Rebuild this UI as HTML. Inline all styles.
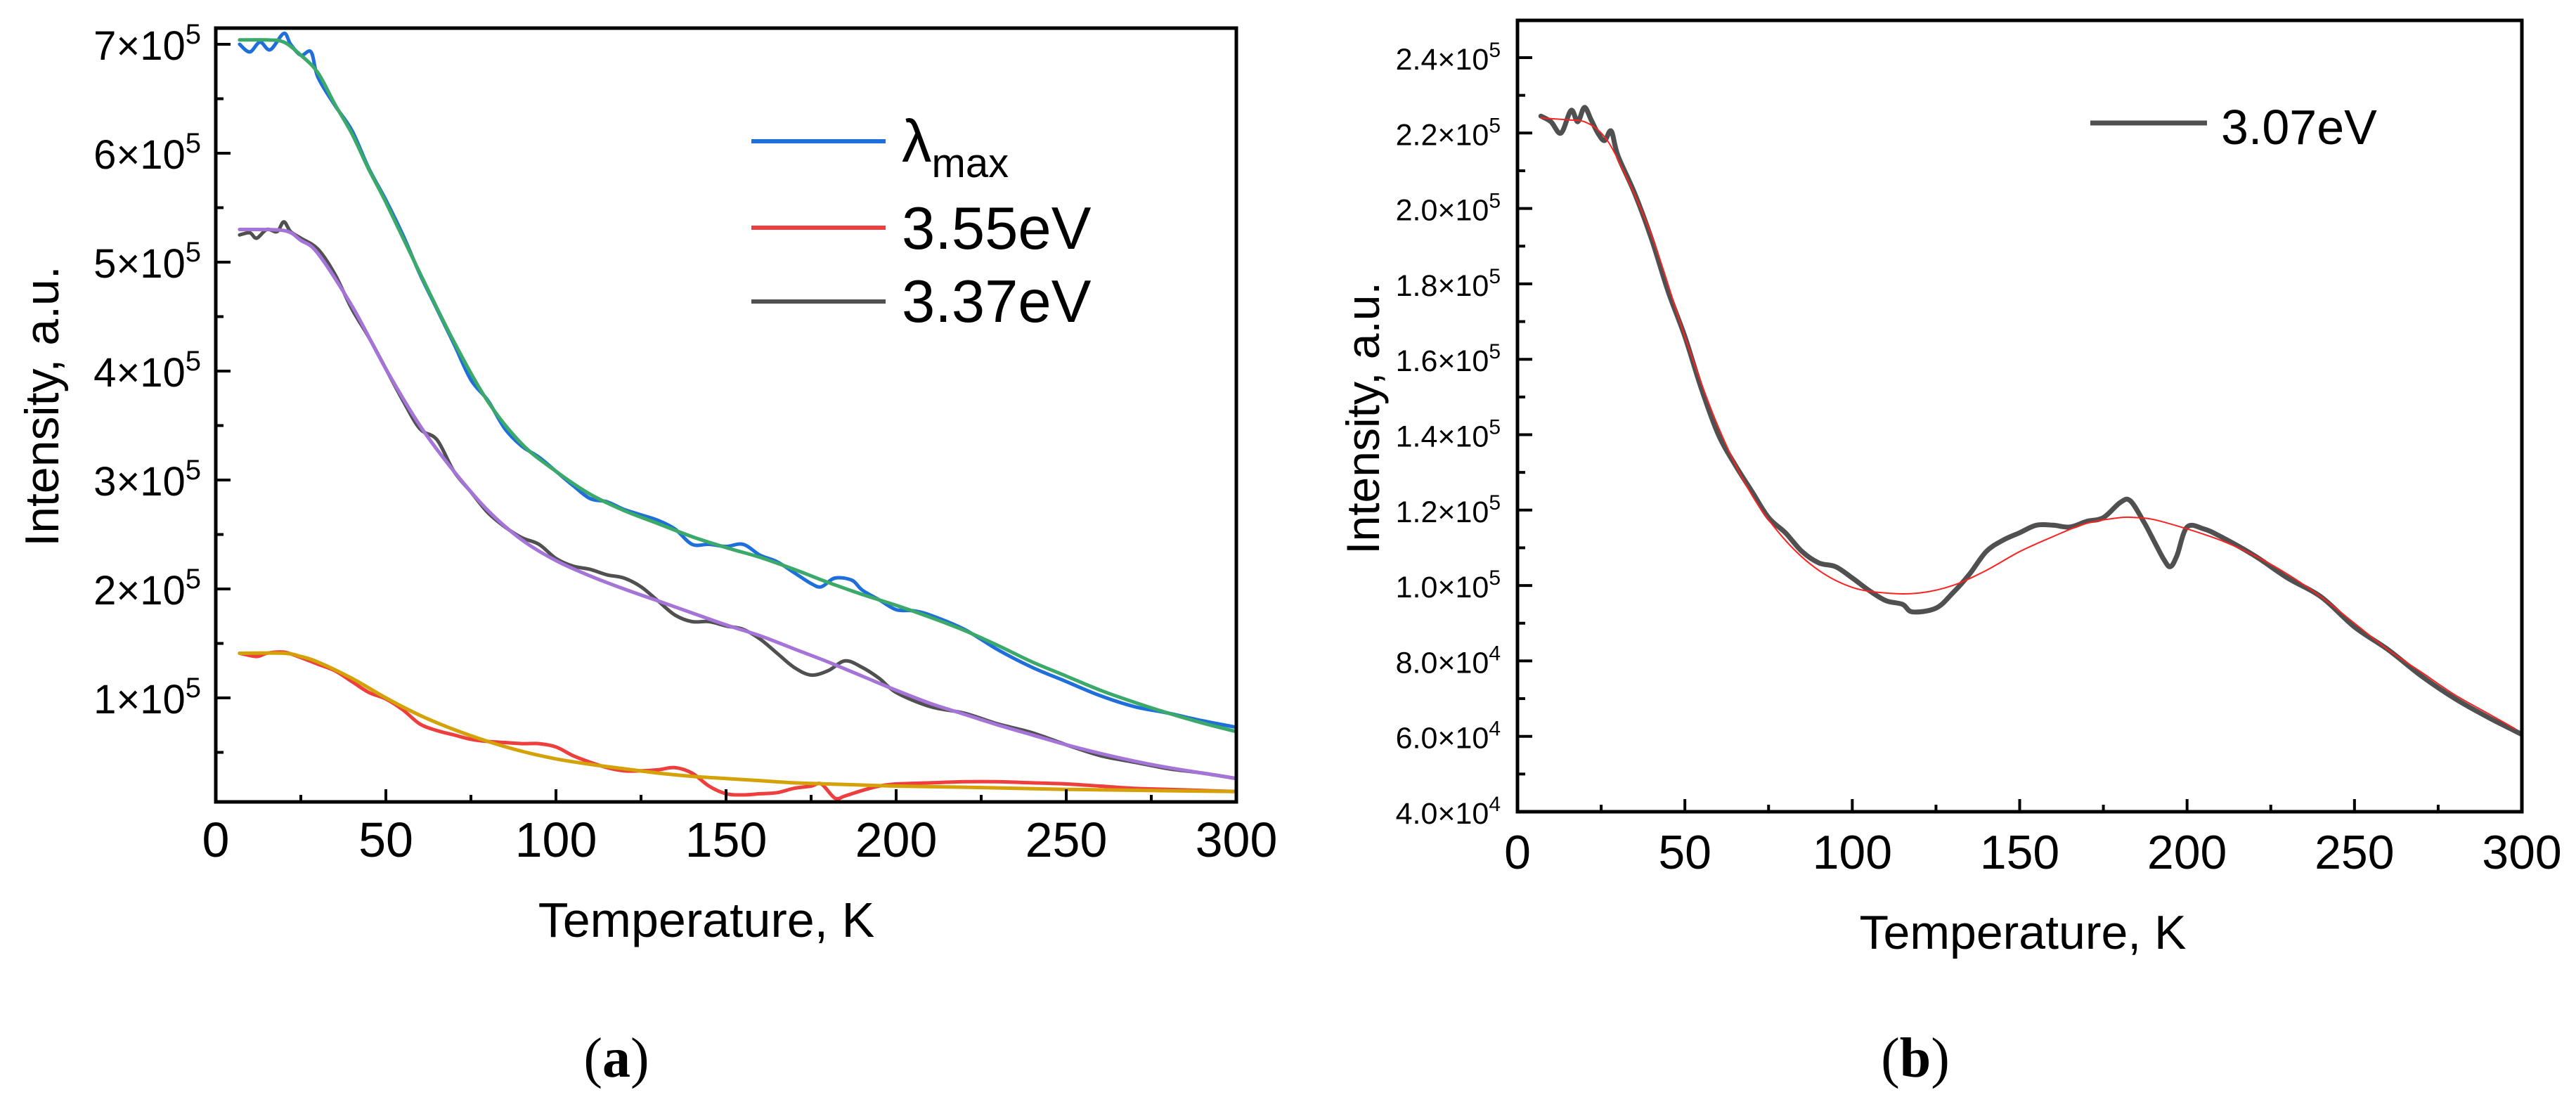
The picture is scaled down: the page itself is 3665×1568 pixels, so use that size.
<!DOCTYPE html>
<html><head><meta charset="utf-8"><style>
html,body{margin:0;padding:0;background:#fff;}
svg{display:block;font-family:"Liberation Sans",Arial,sans-serif;}
</style></head><body>
<svg id="fig" width="3665" height="1568" viewBox="0 0 3665 1568" xmlns="http://www.w3.org/2000/svg">
<g id="pa"></g>
<g id="pb"></g>
</svg>
<script>
// ---------- Panel (a) data (values in units of 1e5) ----------
const aBlueT = [7,10,13,16,20,22,25,28,30,35,40,45,50,55,60,65,70,75,80,85,90,95,100,105,110,115,120,125,130,135,140,145,150,155,160,165,170,175,178,182,187,190,195,200,205,210,220,230,240,250,260,270,280,290,300];
const aBlueV = [7.0,6.93,7.02,6.95,7.1,7.0,6.9,6.93,6.7,6.44,6.21,5.86,5.57,5.25,4.89,4.57,4.25,3.92,3.73,3.47,3.31,3.21,3.08,2.95,2.83,2.8,2.73,2.68,2.63,2.55,2.41,2.41,2.39,2.41,2.31,2.25,2.15,2.05,2.02,2.1,2.08,1.99,1.9,1.81,1.8,1.76,1.63,1.44,1.28,1.15,1.02,0.92,0.86,0.79,0.73];
const aGreenT = [7,15,20,25,30,35,40,45,50,60,70,80,90,100,110,120,130,140,150,160,170,180,190,200,210,220,230,240,250,260,270,280,290,300];
const aGreenV = [7.04,7.04,7.02,6.9,6.74,6.45,6.18,5.85,5.55,4.9,4.27,3.72,3.33,3.08,2.87,2.72,2.6,2.48,2.38,2.29,2.18,2.06,1.95,1.85,1.74,1.62,1.48,1.33,1.2,1.07,0.96,0.86,0.77,0.69];
const aGrayT = [7,10,12,15,18,20,22,25,30,35,40,45,50,55,60,65,70,75,80,85,90,95,100,105,110,115,120,125,130,135,140,145,150,155,160,165,170,175,180,185,190,195,200,210,220,230,240,250,260,270,280,290,300];
const aGrayV = [5.25,5.27,5.22,5.3,5.28,5.37,5.28,5.22,5.12,4.89,4.57,4.31,4.02,3.73,3.47,3.37,3.08,2.89,2.7,2.57,2.47,2.41,2.28,2.21,2.18,2.13,2.1,2.02,1.89,1.76,1.7,1.7,1.66,1.63,1.54,1.41,1.28,1.21,1.25,1.34,1.28,1.18,1.05,0.92,0.86,0.76,0.68,0.57,0.47,0.41,0.35,0.31,0.26];
const aPurpleT = [7,20,25,30,40,50,60,70,80,90,100,110,120,130,140,150,160,170,180,190,200,210,220,230,240,250,260,270,280,290,300];
const aPurpleV = [5.3,5.29,5.2,5.08,4.6,4.02,3.5,3.08,2.72,2.45,2.26,2.12,2.0,1.89,1.78,1.67,1.57,1.45,1.33,1.2,1.07,0.95,0.85,0.75,0.66,0.57,0.49,0.42,0.36,0.31,0.26];
const aRedT = [7,12,15,20,25,30,35,40,45,50,55,60,65,70,75,80,85,90,95,100,105,110,115,120,125,130,135,140,145,150,155,160,165,170,175,178,182,185,190,195,200,210,220,230,240,250,260,270,280,290,300];
const aRedV = [1.41,1.38,1.41,1.42,1.37,1.31,1.25,1.15,1.05,0.99,0.89,0.76,0.7,0.66,0.62,0.6,0.59,0.58,0.58,0.55,0.47,0.41,0.36,0.33,0.33,0.34,0.36,0.31,0.19,0.12,0.11,0.12,0.13,0.17,0.19,0.21,0.08,0.1,0.15,0.19,0.21,0.22,0.23,0.23,0.22,0.21,0.19,0.17,0.16,0.15,0.14];
const aGoldT = [7,20,25,30,40,50,60,70,80,90,100,110,120,130,140,150,160,170,180,190,200,220,250,300];
const aGoldV = [1.41,1.41,1.38,1.33,1.18,1.0,0.84,0.71,0.6,0.51,0.44,0.39,0.35,0.31,0.28,0.26,0.24,0.22,0.21,0.2,0.19,0.18,0.16,0.14];
const aYTicks = [1,2,3,4,5,6,7];
const aXTicks = [0,50,100,150,200,250,300];

// ---------- Panel (b) data (values in units of 1e5) ----------
const bGrayT = [7,10,13,16,18,20,22,24,26,28,30,35,40,45,50,55,60,65,70,75,80,85,90,95,100,105,110,115,118,125,130,135,140,145,150,155,160,165,170,175,180,183,187,190,193,195,197,200,205,210,220,230,240,250,260,270,280,290,300];
const bGrayV = [2.245,2.23,2.2,2.26,2.23,2.268,2.235,2.2,2.18,2.205,2.14,2.04,1.92,1.78,1.66,1.52,1.4,1.32,1.25,1.18,1.14,1.09,1.06,1.05,1.02,0.987,0.96,0.95,0.93,0.94,0.98,1.03,1.09,1.12,1.14,1.16,1.16,1.155,1.17,1.18,1.22,1.225,1.17,1.12,1.07,1.05,1.08,1.155,1.15,1.13,1.08,1.02,0.97,0.89,0.83,0.76,0.7,0.65,0.605];
const bFitT = [7,15,20,25,30,40,50,60,70,80,90,100,110,120,130,140,150,160,170,180,185,190,200,210,220,230,240,250,260,270,280,290,298];
const bFitV = [2.24,2.235,2.23,2.2,2.13,1.93,1.66,1.42,1.24,1.12,1.04,0.995,0.98,0.98,1.0,1.04,1.09,1.13,1.165,1.18,1.18,1.175,1.15,1.12,1.08,1.03,0.97,0.9,0.83,0.77,0.71,0.66,0.62];
const bYTicks = [0.4,0.6,0.8,1.0,1.2,1.4,1.6,1.8,2.0,2.2,2.4];
const bYLabels = ["4.0×10|4","6.0×10|4","8.0×10|4","1.0×10|5","1.2×10|5","1.4×10|5","1.6×10|5","1.8×10|5","2.0×10|5","2.2×10|5","2.4×10|5"];
const bXTicks = [0,50,100,150,200,250,300];

const NS = "http://www.w3.org/2000/svg";
function mk(parent, tag, attrs){const e=document.createElementNS(NS,tag);for(const k in attrs)e.setAttribute(k,attrs[k]);parent.appendChild(e);return e;}
function smooth(pts){
  let d="M"+pts[0][0].toFixed(1)+","+pts[0][1].toFixed(1);
  for(let i=0;i<pts.length-1;i++){
    const p0=pts[Math.max(0,i-1)],p1=pts[i],p2=pts[i+1],p3=pts[Math.min(pts.length-1,i+2)];
    const c1x=p1[0]+(p2[0]-p0[0])/6,c1y=p1[1]+(p2[1]-p0[1])/6,c2x=p2[0]-(p3[0]-p1[0])/6,c2y=p2[1]-(p3[1]-p1[1])/6;
    d+=" C"+c1x.toFixed(1)+","+c1y.toFixed(1)+" "+c2x.toFixed(1)+","+c2y.toFixed(1)+" "+p2[0].toFixed(1)+","+p2[1].toFixed(1);
  }
  return d;
}
function series(g,T,V,sx,sy,color,w,name){
  const pts=T.map((t,i)=>[sx(t),sy(V[i])]);
  const p=mk(g,"path",{d:smooth(pts),fill:"none",stroke:color,"stroke-width":w,"stroke-linejoin":"round","stroke-linecap":"round"});
  
  
}

// ---------- Panel (a) ----------
(function(){
  const g=document.getElementById("pa");
  const L=307,R=1759,T0=40,B=1141;
  const sx=t=>L+(t-0)*(R-L)/300;
  const sy=v=>993-(v-1)*155;
  const clip=mk(g,"clipPath",{id:"ca"});mk(clip,"rect",{x:L,y:T0,width:R-L,height:B-T0});
  const plot=mk(g,"g",{"clip-path":"url(#ca)"});
  
  
  series(plot,aBlueT,aBlueV,sx,sy,"#1e6fdc",5,"lambda-max-line");
  series(plot,aGreenT,aGreenV,sx,sy,"#3aa96a",5,"lambda-max-fit");
  series(plot,aGrayT,aGrayV,sx,sy,"#505050",5,"line-3-37ev");
  series(plot,aPurpleT,aPurpleV,sx,sy,"#a474d8",5,"fit-3-37ev");
  series(plot,aRedT,aRedV,sx,sy,"#ef3e3e",5,"line-3-55ev");
  series(plot,aGoldT,aGoldV,sx,sy,"#d4a106",5,"fit-3-55ev");
  const fr=mk(g,"rect",{x:L,y:T0,width:R-L,height:B-T0,fill:"none",stroke:"#000","stroke-width":5});
  
  
  // y ticks
  aYTicks.forEach(v=>{
    const y=sy(v);
    const t=mk(g,"line",{x1:L,x2:L+21,y1:y,y2:y,stroke:"#000","stroke-width":4});
    
    
    const m=mk(g,"line",{x1:L,x2:L+11,y1:sy(v-0.5),y2:sy(v-0.5),stroke:"#000","stroke-width":4});
    
    
    const tx=mk(g,"text",{x:286,y:y+22,"text-anchor":"end","font-size":58});
    
    
    const s1=mk(tx,"tspan",{});s1.textContent=v+"×10";
    const s2=mk(tx,"tspan",{"font-size":40,dy:-23});s2.textContent="5";
  });
  aXTicks.forEach((t,i)=>{
    const x=sx(t);
    const k=mk(g,"line",{x1:x,x2:x,y1:B,y2:B-18,stroke:"#000","stroke-width":4});
    
    
    if(i<aXTicks.length-1){const m=mk(g,"line",{x1:sx(t+25),x2:sx(t+25),y1:B,y2:B-10,stroke:"#000","stroke-width":4});
      
      }
    const tx=mk(g,"text",{x:x,y:1219,"text-anchor":"middle","font-size":70});
    
    
    tx.textContent=t;
  });
})();
</script>
<script>
// static labels for (a) and panel (b)
(function(){
  const g=document.getElementById("pa");
  function txt(parent,attrs,s,name){const e=mk(parent,"text",attrs);e.textContent=s;return e;}
  txt(g,{x:1005,y:1333,"text-anchor":"middle","font-size":70},"Temperature, K","x-axis-title-a");
  txt(g,{x:0,y:0,"text-anchor":"middle","font-size":68,transform:"translate(83,578) rotate(-90)"},"Intensity, a.u.","y-axis-title-a");
  const cap=mk(g,"text",{x:877,y:1532,"text-anchor":"middle","font-size":80,"font-family":"Liberation Serif, serif"});
  
  const c1=mk(cap,"tspan",{});c1.textContent="(";const c2=mk(cap,"tspan",{"font-weight":"bold"});c2.textContent="a";const c3=mk(cap,"tspan",{});c3.textContent=")";
  // legend a
  const lg=mk(g,"g",{});
  const items=[["#1e6fdc",201,"lambda"],["#ef3e3e",324,"3.55eV"],["#505050",429,"3.37eV"]];
  items.forEach(it=>{
    const l=mk(lg,"line",{x1:1069,x2:1260,y1:it[1],y2:it[1],stroke:it[0],"stroke-width":6});
    
  });
  const lt=mk(lg,"text",{x:1283,y:230,"font-size":85});
  
  const a1=mk(lt,"tspan",{});a1.textContent="λ";const a2=mk(lt,"tspan",{"font-size":58,dy:22});a2.textContent="max";
  txt(lg,{x:1283,y:354,"font-size":85},"3.55eV","legend-entry-3-55ev");
  txt(lg,{x:1283,y:458,"font-size":85},"3.37eV","legend-entry-3-37ev");

  // ---------- Panel (b) ----------
  const h=document.getElementById("pb");
  const L=2159,R=3588,T0=29,B=1155;
  const sx=t=>L+t*(R-L)/300;
  const sy=v=>82+(2.4-v)*536.5;
  const clip=mk(h,"clipPath",{id:"cb"});mk(clip,"rect",{x:L,y:T0,width:R-L,height:B-T0});
  const plot=mk(h,"g",{"clip-path":"url(#cb)"});
  
  series(plot,bGrayT,bGrayV,sx,sy,"#505050",7,"line-3-07ev");
  series(plot,bFitT,bFitV,sx,sy,"#ff2020",2,"fit-3-07ev");
  const fr=mk(h,"rect",{x:L,y:T0,width:R-L,height:B-T0,fill:"none",stroke:"#000","stroke-width":5});
  
  bYTicks.forEach((v,i)=>{
    const y=sy(v);
    const t=mk(h,"line",{x1:L,x2:L+21,y1:y,y2:y,stroke:"#000","stroke-width":4});
    
    if(i<bYTicks.length-1){const m=mk(h,"line",{x1:L,x2:L+11,y1:sy(v+0.1),y2:sy(v+0.1),stroke:"#000","stroke-width":4});
      }
    const parts=bYLabels[i].split("|");
    const tx=mk(h,"text",{x:2135,y:y+17,"text-anchor":"end","font-size":43});
    
    const s1=mk(tx,"tspan",{});s1.textContent=parts[0];
    const s2=mk(tx,"tspan",{"font-size":30,dy:-18});s2.textContent=parts[1];
  });
  bXTicks.forEach((t,i)=>{
    const x=sx(t);
    const k=mk(h,"line",{x1:x,x2:x,y1:B,y2:B-18,stroke:"#000","stroke-width":4});
    
    if(i<bXTicks.length-1){const m=mk(h,"line",{x1:sx(t+25),x2:sx(t+25),y1:B,y2:B-10,stroke:"#000","stroke-width":4});
      }
    const tx=mk(h,"text",{x:x,y:1236,"text-anchor":"middle","font-size":68});
    
    tx.textContent=t;
  });
  txt(h,{x:2878,y:1350,"text-anchor":"middle","font-size":68},"Temperature, K","x-axis-title-b");
  txt(h,{x:0,y:0,"text-anchor":"middle","font-size":66,transform:"translate(1962,595) rotate(-90)"},"Intensity, a.u.","y-axis-title-b");
  const capb=mk(h,"text",{x:2725,y:1532,"text-anchor":"middle","font-size":80,"font-family":"Liberation Serif, serif"});
  
  const d1=mk(capb,"tspan",{});d1.textContent="(";const d2=mk(capb,"tspan",{"font-weight":"bold"});d2.textContent="b";const d3=mk(capb,"tspan",{});d3.textContent=")";
  const lgb=mk(h,"g",{});
  const lb=mk(lgb,"line",{x1:2974,x2:3140,y1:175,y2:175,stroke:"#505050","stroke-width":7});
  
  txt(lgb,{x:3160,y:205,"font-size":70},"3.07eV","legend-entry-3-07ev");
})();
</script>
</body></html>
